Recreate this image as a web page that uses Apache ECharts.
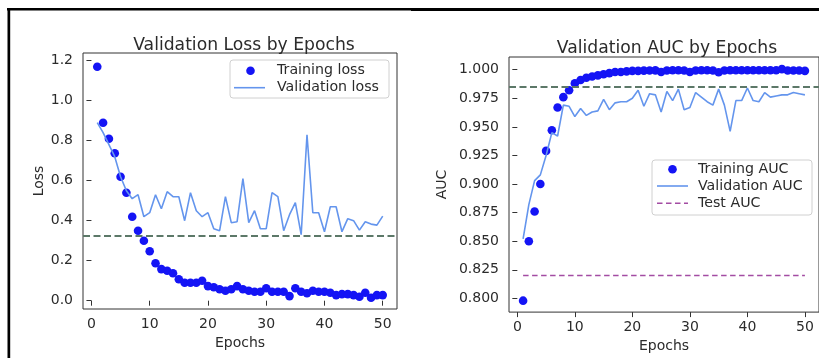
<!DOCTYPE html>
<html><head><meta charset="utf-8">
<script src="https://cdn.jsdelivr.net/npm/echarts@6/dist/echarts.min.js"></script>
<style>html,body{margin:0;padding:0;background:#fff}#c{width:819px;height:358px}</style>
</head><body><div id="c"></div>
<script>
const epochs = Array.from({length: 50}, (_, i) => i + 1);
const trainLoss = [1.17,0.89,0.81,0.737,0.62,0.54,0.42,0.35,0.30,0.247,0.187,0.158,0.15,0.137,0.107,0.09,0.09,0.09,0.10,0.073,0.067,0.057,0.05,0.057,0.073,0.057,0.05,0.045,0.045,0.062,0.045,0.045,0.045,0.023,0.062,0.045,0.037,0.05,0.045,0.045,0.04,0.028,0.033,0.033,0.028,0.02,0.04,0.015,0.028,0.028];
const valLoss = [0.89,0.84,0.78,0.72,0.62,0.55,0.51,0.53,0.42,0.44,0.53,0.46,0.545,0.52,0.52,0.40,0.54,0.45,0.42,0.44,0.36,0.35,0.52,0.39,0.395,0.61,0.39,0.45,0.36,0.36,0.54,0.52,0.35,0.43,0.49,0.33,0.83,0.44,0.44,0.345,0.47,0.47,0.345,0.41,0.40,0.353,0.395,0.383,0.378,0.423];
const lossRef = 0.325;
const trainAUC = [0.798,0.850,0.876,0.900,0.929,0.947,0.967,0.976,0.982,0.988,0.991,0.993,0.994,0.995,0.996,0.997,0.998,0.998,0.9985,0.999,0.999,0.9992,0.9993,0.9994,0.998,0.9993,0.9995,0.9995,0.9993,0.998,0.9993,0.9995,0.9995,0.9993,0.9978,0.9993,0.9995,0.9995,0.9995,0.9995,0.9995,0.9995,0.9995,0.9995,0.9995,1.0005,0.9993,0.9993,0.9993,0.999];
const valAUC = [0.852,0.882,0.903,0.908,0.925,0.945,0.942,0.969,0.968,0.959,0.966,0.960,0.963,0.964,0.974,0.965,0.971,0.972,0.972,0.975,0.982,0.968,0.979,0.978,0.963,0.981,0.973,0.983,0.965,0.967,0.980,0.976,0.972,0.969,0.983,0.969,0.946,0.973,0.973,0.984,0.973,0.972,0.980,0.976,0.977,0.978,0.978,0.980,0.979,0.978];
const testAUC = 0.820;
const aucRef = 0.9848;
const xTicks = [0,10,20,30,40,50];
const lossTicks = [0,0.2,0.4,0.6,0.8,1.0,1.2];
const aucTicks = [0.800,0.825,0.850,0.875,0.900,0.925,0.950,0.975,1.000];

const FONT = 'DejaVu Sans';
const TXT = '#2b2b2b';
const chart = echarts.init(document.getElementById('c'), null, {renderer: 'canvas'});
const pairs = (ys) => epochs.map((e, i) => [e, ys[i]]);

function xAxis(gi){
  return {type:'value', gridIndex:gi, min:-1.45, max:52.45,
    splitLine:{show:false}, axisLine:{show:false},
    axisTick:{show:true, length:5, customValues:xTicks, lineStyle:{color:'#333'}},
    axisLabel:{customValues:xTicks, margin:8, fontSize:14, fontFamily:FONT, color:TXT},
    name:'Epochs', nameLocation:'middle', nameGap:24,
    nameTextStyle:{fontSize:14, fontFamily:FONT, color:TXT}};
}
function yAxis(gi, min, max, ticks, dec, name, gap){
  return {type:'value', gridIndex:gi, min:min, max:max,
    splitLine:{show:false}, axisLine:{show:false},
    axisTick:{show:true, length:5, customValues:ticks, lineStyle:{color:'#333'}},
    axisLabel:{customValues:ticks, margin:10, fontSize:14, fontFamily:FONT, color:TXT,
      formatter:(v)=>v.toFixed(dec)},
    name:name, nameLocation:'middle', nameGap:gap, nameRotate:90,
    nameTextStyle:{fontSize:14, fontFamily:FONT, color:TXT}};
}

const dotColor = '#1414f5';
const lineColor = '#6495ED';
const refColor = '#5c7868';
const purple = '#a34ca3';

const g = [];
g.push({type:'rect', shape:{x:7, y:8, width:404, height:2.5}, style:{fill:'#000'}, z:100});
g.push({type:'rect', shape:{x:411, y:8, width:408, height:3}, style:{fill:'#000'}, z:100});
g.push({type:'rect', shape:{x:7.5, y:8, width:2.7, height:350}, style:{fill:'#000'}, z:100});
const LF = '14.2px "DejaVu Sans"';
g.push({type:'rect', shape:{x:230, y:60, width:159, height:38, r:3}, style:{fill:'rgba(255,255,255,0.8)', stroke:'#d0d0d0', lineWidth:1}, z:50});
g.push({type:'circle', shape:{cx:250.5, cy:70.7, r:4.3}, style:{fill:dotColor}, z:51});
g.push({type:'line', shape:{x1:234, y1:87.7, x2:265, y2:87.7}, style:{stroke:lineColor, lineWidth:1.6}, z:51});
g.push({type:'text', x:277, y:70.7, style:{text:'Training loss', font:LF, fill:TXT, verticalAlign:'middle'}, z:51});
g.push({type:'text', x:277, y:87.7, style:{text:'Validation loss', font:LF, fill:TXT, verticalAlign:'middle'}, z:51});
g.push({type:'rect', shape:{x:652, y:160, width:160, height:55, r:3}, style:{fill:'rgba(255,255,255,0.8)', stroke:'#d0d0d0', lineWidth:1}, z:50});
g.push({type:'circle', shape:{cx:672.5, cy:169.3, r:4.3}, style:{fill:dotColor}, z:51});
g.push({type:'line', shape:{x1:657, y1:186, x2:688, y2:186}, style:{stroke:lineColor, lineWidth:1.6}, z:51});
g.push({type:'line', shape:{x1:657, y1:203.3, x2:688, y2:203.3}, style:{stroke:purple, lineWidth:1.6, lineDash:[5.5,3.5]}, z:51});
g.push({type:'text', x:698, y:169.3, style:{text:'Training AUC', font:LF, fill:TXT, verticalAlign:'middle'}, z:51});
g.push({type:'text', x:698, y:186, style:{text:'Validation AUC', font:LF, fill:TXT, verticalAlign:'middle'}, z:51});
g.push({type:'text', x:698, y:203.3, style:{text:'Test AUC', font:LF, fill:TXT, verticalAlign:'middle'}, z:51});

chart.setOption({
  animation:false,
  backgroundColor:'#fff',
  title:[
    {text:'Validation Loss by Epochs', left:239, top:32, textAlign:'center',
      textStyle:{fontSize:17.2, fontWeight:'normal', fontFamily:FONT, color:TXT}},
    {text:'Validation AUC by Epochs', left:662, top:35.5, textAlign:'center',
      textStyle:{fontSize:17.2, fontWeight:'normal', fontFamily:FONT, color:TXT}}
  ],
  grid:[
    {left:83, top:53, width:314, height:256, show:true, borderColor:'#333', borderWidth:1, backgroundColor:'transparent'},
    {left:509, top:57, width:310, height:260, show:true, borderColor:'#333', borderWidth:1, backgroundColor:'transparent'}
  ],
  xAxis:[xAxis(0), xAxis(1)],
  yAxis:[yAxis(0, -0.0415, 1.2385, lossTicks, 1, 'Loss', 37), yAxis(1, 0.788, 1.0111, aucTicks, 3, 'AUC', 60)],
  graphic:g,
  series:[
    {type:'scatter', xAxisIndex:0, yAxisIndex:0, data:pairs(trainLoss), symbolSize:8.6,
      itemStyle:{color:dotColor, opacity:1}, z:2},
    {type:'line', xAxisIndex:0, yAxisIndex:0, data:pairs(valLoss), symbol:'none',
      lineStyle:{color:lineColor, width:1.6}, z:3,
      markLine:{silent:true, symbol:'none', precision:4, label:{show:false},
        lineStyle:{color:refColor, width:1.8, type:[7,3.5]}, data:[{yAxis:lossRef}]}},
    {type:'scatter', xAxisIndex:1, yAxisIndex:1, data:pairs(trainAUC), symbolSize:8.6,
      itemStyle:{color:dotColor, opacity:1}, z:2},
    {type:'line', xAxisIndex:1, yAxisIndex:1, data:pairs(valAUC), symbol:'none',
      lineStyle:{color:lineColor, width:1.6}, z:3,
      markLine:{silent:true, symbol:'none', precision:4, label:{show:false},
        lineStyle:{color:refColor, width:1.8, type:[7,3.5]}, data:[{yAxis:aucRef}]}},
    {type:'line', xAxisIndex:1, yAxisIndex:1, data:pairs(epochs.map(()=>testAUC)), symbol:'none',
      lineStyle:{color:purple, width:1.6, type:[5.5,3.5]}, z:3}
  ]
});
</script></body></html>
